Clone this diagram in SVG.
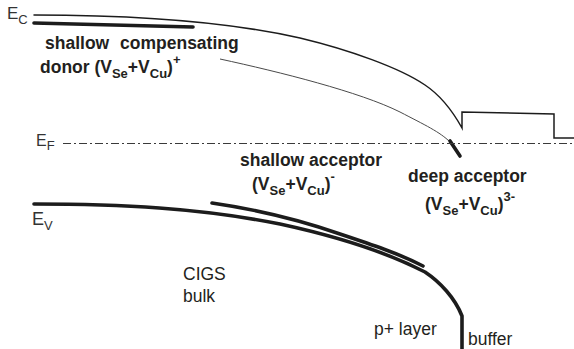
<svg xmlns="http://www.w3.org/2000/svg" width="574" height="349" viewBox="0 0 574 349">
  <style>
    .band { fill: none; stroke: #1c1c1c; stroke-linecap: round; stroke-linejoin: miter; }
    .thin { stroke-width: 1.5; }
    .fine { fill: none; stroke: #4a4a4a; stroke-width: 1; }
    .thick { stroke-width: 3.6; }
    .fermi { fill: none; stroke: #3a3a3a; stroke-width: 1.2; stroke-dasharray: 8 3 2 3; }
    .lbl { font-family: "Liberation Sans", Arial, sans-serif; fill: #333; }
    .b { font-family: "Liberation Sans", Arial, sans-serif; font-weight: bold; fill: #231f20; font-size: 17.5px; }
    .r { font-family: "Liberation Sans", Arial, sans-serif; fill: #231f20; font-size: 17.5px; }
    .sub { font-size: 13px; }
  </style>

  <!-- band lines -->
  <g id="connectors">
    <!-- conduction band edge with buffer step -->
    <path class="band thin" d="M34,15 C120,15 220,20 300,38 C350,50 400,68 425,85 C440,95 452,110 462,128 L462,112 L554,114 L554,138 L574,138"/>
    <!-- shallow compensating donor level -->
    <path class="band thick" d="M34,23 L193,27"/>
    <!-- thin level running into the deep acceptor -->
    <path class="fine" d="M220,59 C280,72 360,92 400,112 C425,125 440,132 450,142"/>
    <!-- deep acceptor level -->
    <path class="band thick" d="M450,141 L460,156"/>
    <!-- Fermi level -->
    <path class="fermi" d="M63,143.5 L574,143.5"/>
    <!-- valence band edge -->
    <path class="band thick" d="M34,204 C120,204 200,208 280,224 C340,237 390,254 425,272 C440,282 455,298 462,316 L462,349"/>
    <!-- shallow acceptor level -->
    <path class="band thick" d="M212,203 C260,210 300,220 340,234 C370,244 400,254 423,266"/>
  </g>

  <g id="label-ec">
    <text class="lbl" x="7" y="19" font-size="17">E<tspan class="sub" dy="5">C</tspan></text>
  </g>
  <g id="label-ef">
    <text class="lbl" x="36" y="146" font-size="16">E<tspan class="sub" dy="4">F</tspan></text>
  </g>
  <g id="label-ev">
    <text class="lbl" x="32" y="225" font-size="18">E<tspan class="sub" dy="5">V</tspan></text>
  </g>

  <g id="donor">
    <text class="b" x="45" y="49" word-spacing="6">shallow compensating</text>
    <text class="b" x="40" y="73">donor (V<tspan class="sub" dy="5">Se</tspan><tspan dy="-5">+V</tspan><tspan class="sub" dy="5">Cu</tspan><tspan dy="-5">)</tspan><tspan class="sub" dy="-9">+</tspan></text>
  </g>

  <g id="shallow-acceptor">
    <text class="b" x="240" y="166">shallow acceptor</text>
    <text class="b" x="252" y="190">(V<tspan class="sub" dy="5">Se</tspan><tspan dy="-5">+V</tspan><tspan class="sub" dy="5">Cu</tspan><tspan dy="-5">)</tspan><tspan class="sub" dy="-9">-</tspan></text>
  </g>

  <g id="deep-acceptor">
    <text class="b" x="408" y="182">deep acceptor</text>
    <text class="b" x="425" y="210">(V<tspan class="sub" dy="5">Se</tspan><tspan dy="-5">+V</tspan><tspan class="sub" dy="5">Cu</tspan><tspan dy="-5">)</tspan><tspan class="sub" dy="-9">3-</tspan></text>
  </g>

  <g id="cigs-bulk">
    <text class="r" x="183" y="280">CIGS</text>
    <text class="r" x="183" y="302">bulk</text>
  </g>
  <g id="p-layer">
    <text class="r" x="374" y="335">p+ layer</text>
  </g>
  <g id="buffer">
    <text class="r" x="468" y="345">buffer</text>
  </g>
</svg>
